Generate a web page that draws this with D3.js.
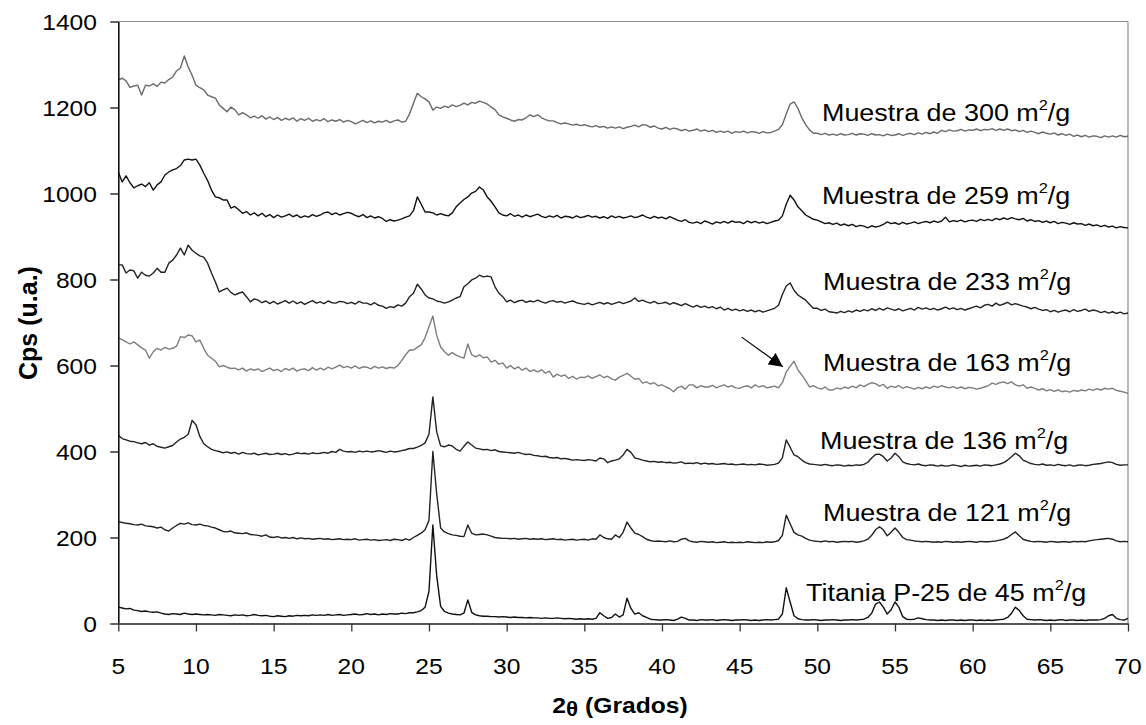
<!DOCTYPE html>
<html><head><meta charset="utf-8">
<script src="https://cdn.jsdelivr.net/npm/d3@7"></script>
<style>
html,body{margin:0;padding:0;background:#fff;}
text{font-family:"Liberation Sans",Arial,sans-serif;}
</style></head>
<body>
<svg id="chart" width="1146" height="725"></svg>
<script>
// ---------- DATA (2θ grid: 5 → 70 step 0.25) ----------
const xStart = 5, xStep = 0.25;
const xTicks = [5,10,15,20,25,30,35,40,45,50,55,60,65,70];
const yTicks = [0,200,400,600,800,1000,1200,1400];
const seriesNames = ["Muestra de 300","Muestra de 259","Muestra de 233","Muestra de 163","Muestra de 136","Muestra de 121","Titania P-25 de 45"];

const s300 = [
1264,1268,1262,1247, 1250,1252,1229,1252, 1250,1255,1249,1259, 1257,1265,1271,1285,
1292,1320,1294,1275, 1252,1246,1241,1229, 1225,1222,1206,1198, 1190,1201,1195,1183,
1188,1183,1176,1180, 1175,1181,1173,1178, 1172,1177,1170,1175, 1171,1176,1168,1174,
1170,1175,1168,1172, 1169,1174,1167,1171, 1168,1172,1166,1170, 1167,1162,1166,1170,
1165,1169,1164,1168, 1166,1170,1165,1169, 1171,1166,1168,1185, 1210,1233,1225,1220,
1213,1194,1201,1198, 1203,1200,1206,1202, 1205,1210,1206,1212, 1210,1215,1212,1208,
1201,1195,1183,1178, 1175,1171,1168,1172, 1171,1176,1183,1179, 1183,1176,1172,1169,
1169,1165,1162,1164, 1162,1159,1161,1158, 1160,1157,1155,1158, 1154,1156,1152,1155,
1152,1155,1151,1154, 1156,1159,1155,1160, 1159,1154,1157,1152, 1150,1154,1149,1152,
1150,1146,1149,1145, 1147,1150,1145,1148, 1144,1147,1142,1145, 1142,1145,1140,1144,
1142,1145,1141,1144, 1143,1140,1144,1141, 1142,1145,1149,1160, 1185,1208,1213,1198,
1176,1160,1148,1140, 1140,1137,1140,1136, 1138,1135,1139,1136, 1137,1140,1136,1139,
1138,1135,1139,1136, 1137,1134,1138,1135, 1136,1139,1135,1138, 1140,1137,1141,1138,
1142,1139,1143,1140, 1147,1144,1148,1145, 1146,1149,1145,1148, 1147,1150,1146,1149,
1148,1151,1147,1150, 1147,1150,1146,1148, 1144,1147,1142,1145, 1142,1139,1143,1140,
1138,1141,1136,1139, 1135,1138,1133,1136, 1132,1135,1131,1134, 1133,1130,1134,1131,
1134,1131,1135,1132, 1133];

const s259 = [
1050,1027,1041,1025, 1013,1018,1022,1016, 1025,1008,1020,1027, 1043,1050,1055,1058,
1065,1078,1080,1078, 1080,1066,1047,1030, 1008,992,990,985, 985,966,970,962,
954,958,950,955, 948,954,946,951, 944,950,945,948, 952,946,950,944,
948,945,951,947, 950,955,957,951, 955,950,953,956, 954,949,946,951,
944,948,943,946, 942,935,939,936, 938,941,945,948, 960,992,975,957,
957,955,950,953, 950,948,955,969, 978,986,992,1001, 1005,1015,1008,992,
982,969,955,950, 948,953,947,950, 945,950,946,949, 952,947,944,948,
945,949,943,947, 946,943,948,944, 946,949,945,947, 943,946,942,948,
944,947,943,945, 948,944,946,950, 945,942,947,943, 945,941,946,942,
938,935,939,933, 931,934,930,936, 933,929,934,931, 935,931,936,933,
934,930,936,932, 935,931,934,930, 933,936,938,948, 975,996,985,969,
960,950,945,940, 938,934,930,932, 928,931,926,929, 925,928,923,926,
924,920,925,922, 924,928,934,930, 932,928,933,929, 931,934,930,933,
935,932,936,933, 936,945,934,937, 935,938,934,937, 938,935,940,937,
940,937,942,939, 943,940,944,941, 939,942,936,939, 935,937,933,936,
932,935,930,933, 931,928,932,929, 930,926,929,925, 927,923,926,922,
924,920,923,921, 920];

const s233 = [
834,834,815,822, 820,803,817,810, 808,815,826,817, 817,838,845,857,
873,857,880,868, 861,855,852,838, 815,794,771,776, 780,770,764,768,
771,760,748,755, 752,746,750,744, 749,743,747,751, 745,750,744,748,
742,747,751,745, 748,744,750,746, 745,749,748,744, 747,743,749,745,
745,741,746,740, 738,733,737,735, 741,738,745,760, 768,789,778,764,
757,755,750,748, 745,748,752,757, 760,783,790,799, 803,810,806,808,
806,783,768,760, 748,752,746,750, 752,747,750,748, 752,748,745,749,
751,747,749,745, 748,750,746,744, 742,745,741,744, 747,743,746,742,
745,748,744,747, 750,757,749,752, 748,745,749,744, 745,747,742,746,
743,739,744,740, 736,740,735,738, 734,737,732,736, 729,733,728,731,
727,730,726,729, 725,728,724,727, 730,733,740,765, 785,792,775,764,
758,752,742,733, 733,728,731,725, 724,722,726,723, 727,724,729,726,
730,727,732,728, 733,729,734,731, 728,732,727,730, 733,729,735,731,
734,730,733,729, 732,736,731,734, 730,733,729,732, 735,738,734,740,
742,738,745,740, 743,747,741,744, 741,738,736,732, 735,731,728,730,
725,728,724,727, 729,725,730,726, 728,731,726,729, 727,723,726,722,
725,721,724,720, 722];

const s163 = [
664,660,655,650, 655,648,641,636, 617,632,640,636, 642,638,640,645,
667,665,671,669, 655,659,640,624, 617,610,597,600, 596,593,594,590,
594,587,592,589, 592,586,590,594, 588,591,586,593, 589,594,587,591,
592,588,595,589, 594,590,596,592, 596,601,595,598, 594,599,593,597,
596,592,598,594, 597,593,596,594, 600,612,625,636, 636,642,648,665,
690,715,670,643, 632,624,630,624, 620,617,650,625, 620,625,618,620,
608,612,603,606, 594,600,592,597, 589,594,586,590, 585,590,582,587,
573,580,575,578, 570,575,568,573, 572,576,570,574, 578,572,575,569,
566,573,577,582, 575,568,570,559, 562,557,560,553, 555,550,546,539,
548,552,545,555, 555,548,553,550, 550,554,548,552, 555,550,553,548,
547,551,553,548, 555,550,553,548, 550,552,548,560, 585,598,610,590,
578,565,550,553, 548,545,550,543, 543,548,545,550, 547,552,548,555,
551,556,560,558, 552,556,547,552, 549,553,547,551, 548,545,549,546,
550,547,552,549, 553,550,548,551, 547,550,546,549, 548,545,547,550,
553,559,556,560, 562,558,562,555, 552,555,547,550, 547,543,546,541,
544,540,543,539, 541,538,542,540, 543,541,545,542, 546,543,547,545,
547,542,540,538, 535];

const s136 = [
438,430,427,424, 423,420,418,421, 415,418,412,410, 408,411,414,422,
429,433,440,472, 462,435,418,411, 405,402,400,397, 399,396,398,394,
398,395,394,396, 392,394,396,393, 394,396,393,395, 392,394,397,395,
396,394,397,395, 396,398,396,400, 398,405,401,399, 400,398,401,399,
401,399,400,402, 400,398,401,399, 400,402,404,407, 407,410,414,420,
440,527,445,413, 411,415,413,405, 401,412,422,415, 408,406,404,405,
402,404,400,399, 398,397,396,398, 395,393,394,391, 390,388,389,386,
385,386,383,384, 382,380,381,380, 379,381,380,378, 385,383,374,378,
380,383,392,405, 398,385,383,380, 378,376,377,375, 376,374,375,373,
374,376,372,373, 372,374,371,373, 371,372,370,371, 372,370,371,369,
370,371,369,370, 369,371,370,368, 369,370,373,385, 427,410,392,388,
380,374,371,370, 369,368,370,368, 367,369,368,366, 368,367,369,368,
370,375,385,393, 394,388,378,385, 396,388,376,372, 370,369,371,368,
367,369,368,366, 368,366,367,369, 367,365,368,366, 367,368,366,369,
368,367,369,371, 374,380,388,396, 390,380,376,372, 370,369,371,368,
369,367,370,368, 367,369,366,368, 369,367,368,370, 371,372,374,376,
374,370,368,369, 369];

const s121 = [
237,235,233,232, 230,229,231,227, 226,225,222,224, 218,215,222,228,
233,231,234,230, 229,231,228,227, 224,222,218,214, 213,215,211,210,
209,211,207,206, 205,203,206,201, 200,202,199,200, 198,200,197,199,
197,198,196,197, 198,196,197,195, 196,197,195,196, 195,197,194,195,
196,194,195,193, 194,195,193,196, 195,193,197,194, 200,205,210,218,
240,400,300,222, 213,209,206,205, 203,202,229,210, 206,207,208,206,
203,200,199,198, 198,197,198,196, 197,198,196,197, 196,197,195,196,
197,195,196,194, 195,196,194,195, 196,194,197,196, 206,200,197,196,
206,200,212,236, 222,210,207,202, 196,193,191,192, 191,190,192,190,
191,196,198,192, 190,189,191,190, 189,190,188,189, 190,188,189,188,
189,188,190,189, 188,189,188,190, 189,190,193,205, 252,232,212,206,
203,198,194,192, 191,190,192,190, 191,189,190,191, 190,191,189,190,
192,196,205,218, 225,218,204,212, 222,212,200,195, 194,192,191,190,
191,190,189,190, 189,191,190,189, 190,189,190,191, 190,189,191,190,
190,191,192,194, 196,200,207,213, 204,196,193,191, 190,191,190,189,
191,190,189,190, 190,189,191,190, 191,190,192,194, 195,196,197,198,
196,192,190,191, 190];

const sP25 = [
38,36,34,35, 31,30,28,29, 27,26,27,24, 22,21,23,22,
21,24,22,21, 22,21,20,21, 20,19,21,20, 19,18,20,19,
20,18,19,21, 19,18,19,17, 16,18,17,16, 18,17,19,18,
19,18,20,19, 20,19,21,19, 20,21,19,20, 21,22,20,21,
23,21,22,20, 22,21,23,22, 22,24,23,25, 25,27,30,38,
75,229,110,40, 28,24,22,21, 20,24,55,26, 20,18,17,17,
16,16,15,16, 15,14,15,14, 14,13,14,13, 13,12,13,12,
12,13,12,11, 12,11,10,11, 10,11,10,12, 25,18,12,14,
22,15,20,59, 35,22,25,18, 14,10,9,8, 8,9,8,7,
10,15,12,8, 8,7,9,8, 8,9,7,8, 9,8,7,8,
8,9,8,7, 8,7,8,9, 8,9,10,22, 83,50,18,11,
9,8,8,9, 8,7,8,8, 9,8,7,8, 8,9,8,9,
10,14,24,45, 50,38,22,32, 50,38,16,10, 9,10,13,11,
9,8,8,7, 8,7,8,8, 7,8,7,8, 8,7,8,7,
8,7,8,9, 10,14,24,38, 30,18,10,9, 8,9,8,7,
8,7,8,9, 7,8,8,7, 8,7,8,8, 8,9,12,18,
21,12,9,8, 12];

// arrow annotation (data coords): from [2θ, cps] to [2θ, cps]
const arrowFrom = [45.13, 666];
const arrowTo = [47.78, 597];

// ---------- LAYOUT / STYLE ----------
const seriesList = [
  {name: seriesNames[0], values: s300, color: "#6a6a6a", lx: 822, ly: 121},
  {name: seriesNames[1], values: s259, color: "#111111", lx: 822, ly: 204},
  {name: seriesNames[2], values: s233, color: "#222222", lx: 823, ly: 290},
  {name: seriesNames[3], values: s163, color: "#7d7d7d", lx: 823, ly: 371},
  {name: seriesNames[4], values: s136, color: "#222222", lx: 820, ly: 449},
  {name: seriesNames[5], values: s121, color: "#222222", lx: 823, ly: 521},
  {name: seriesNames[6], values: sP25, color: "#111111", lx: 806, ly: 601}
];

const svg = d3.select("#chart");
const X0 = 118.3, X1 = 1128, Y0 = 623.5, Y1 = 21.5;
const x = d3.scaleLinear().domain([5,70]).range([X0, X1]);
const y = d3.scaleLinear().domain([0,1400]).range([Y0, Y1]);
const SX = 1.12; // horizontal stretch of text as in reference

// frame (top and right gray)
svg.append("line").attr("x1",X0).attr("x2",X1).attr("y1",Y1).attr("y2",Y1)
  .attr("stroke","#8a8a8a").attr("stroke-width",1.2);
svg.append("line").attr("x1",X1).attr("x2",X1).attr("y1",Y1).attr("y2",Y0)
  .attr("stroke","#8a8a8a").attr("stroke-width",1.2);

// lines
const line = d3.line()
  .x((d,i)=>x(xStart + i*xStep))
  .y(d=>y(d));
seriesList.forEach(s=>{
  svg.append("path").datum(s.values)
    .attr("d", line)
    .attr("fill","none")
    .attr("stroke", s.color)
    .attr("stroke-width", 1.4)
    .attr("stroke-linejoin","round");
});

// axes
const yAxis = d3.axisLeft(y).tickValues(yTicks).tickSize(8).tickSizeOuter(0).tickFormat(d3.format("d"));
const gy = svg.append("g").attr("transform",`translate(${X0},0)`).call(yAxis);
gy.select(".domain").attr("stroke","#111").attr("stroke-width",1.6);
gy.selectAll(".tick line").attr("stroke","#111").attr("stroke-width",1.3);
gy.selectAll(".tick text").remove();
yTicks.forEach(t=>{
  svg.append("text")
    .attr("transform",`translate(97,${y(t)+8}) scale(${SX},1)`)
    .attr("text-anchor","end")
    .attr("font-size",22).attr("fill","#000")
    .text(t);
});

const xAxis = d3.axisBottom(x).tickValues(xTicks).tickSize(8).tickSizeOuter(0);
const gx = svg.append("g").attr("transform",`translate(0,${Y0})`).call(xAxis);
gx.select(".domain").attr("stroke","#555").attr("stroke-width",2.2);
gx.selectAll(".tick line").attr("stroke","#333").attr("stroke-width",1.3);
gx.selectAll(".tick text").remove();
xTicks.forEach(t=>{
  svg.append("text")
    .attr("transform",`translate(${x(t)},674) scale(${SX},1)`)
    .attr("text-anchor","middle")
    .attr("font-size",22).attr("fill","#000")
    .text(t);
});

// axis titles
const xt = svg.append("text")
  .attr("transform",`translate(620,713) scale(${SX},1)`)
  .attr("text-anchor","middle").attr("font-size",22).attr("font-weight","bold");
xt.append("tspan").text("2");
xt.append("tspan").attr("font-size",20).attr("dy",3).text("θ");
xt.append("tspan").attr("dy",-3).text(" (Grados)");

svg.append("text")
  .attr("transform","translate(37,323) rotate(-90)")
  .attr("text-anchor","middle").attr("font-size",25).attr("font-weight","bold")
  .text("Cps (u.a.)");

// series labels
const LSX = 1.17;
seriesList.forEach(s=>{
  const t = svg.append("text")
    .attr("transform",`translate(${s.lx},${s.ly}) scale(${LSX},1)`)
    .attr("font-size",23).attr("fill","#000");
  t.append("tspan").text(s.name + " m");
  t.append("tspan").attr("font-size",14).attr("dy",-11).text("2");
  t.append("tspan").attr("dy",11).text("/g");
});

// arrow
const defs = svg.append("defs");
defs.append("marker").attr("id","ah").attr("viewBox","0 0 10 10")
  .attr("refX",10).attr("refY",5).attr("markerWidth",14).attr("markerHeight",14)
  .attr("markerUnits","userSpaceOnUse").attr("orient","auto")
  .append("path").attr("d","M0,0 L10,5 L0,10 z").attr("fill","#000");
svg.append("line")
  .attr("x1",x(arrowFrom[0])).attr("y1",y(arrowFrom[1]))
  .attr("x2",x(arrowTo[0])).attr("y2",y(arrowTo[1]))
  .attr("stroke","#000").attr("stroke-width",1.2)
  .attr("marker-end","url(#ah)");
</script>
</body></html>
